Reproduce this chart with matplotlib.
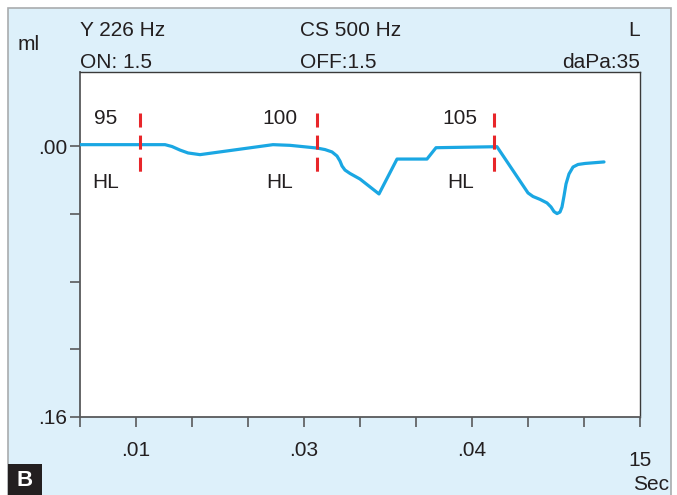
import matplotlib
matplotlib.use("Agg")
import matplotlib.pyplot as plt
from matplotlib.patches import Rectangle

plt.rcParams['font.family'] = ['Liberation Sans', 'DejaVu Sans']
plt.rcParams['lines.scale_dashes'] = False

# reflex trace (x in tick units, y in ml, positive = downward deflection)
trace_x = [0.0, 1.518, 1.643, 1.786, 1.929, 2.143, 3.446, 3.75, 4.232, 4.375, 4.5,
           4.589, 4.643, 4.679, 4.732, 4.821, 5.0, 5.339, 5.661, 6.196, 6.357,
           7.446, 8.0, 8.089, 8.214, 8.339, 8.411, 8.464, 8.518, 8.571, 8.607,
           8.643, 8.679, 8.732, 8.804, 8.893, 9.018, 9.357]
trace_y = [-0.0008, -0.0008, 0.0003, 0.0024, 0.0041, 0.0051, -0.0008, -0.0004,
           0.0012, 0.0021, 0.0035, 0.0059, 0.0089, 0.0118, 0.0142, 0.0162, 0.0195,
           0.0283, 0.0077, 0.0077, 0.0010, 0.0004, 0.0277, 0.0298, 0.0315, 0.0336,
           0.0360, 0.0387, 0.0399, 0.0390, 0.0360, 0.0295, 0.0224, 0.0165, 0.0124,
           0.0109, 0.0103, 0.0094]

# stimulus levels and onset markers
levels = ['95', '100', '105']
onsets = [1.07, 4.23, 7.39]
level_x = [0.46, 3.57, 6.79]

x_ticks = list(range(11))
x_labels = ['', '.01', '', '', '.03', '', '', '.04', '', '', '']
y_ticks = [0.0, 0.04, 0.08, 0.12, 0.16]
y_labels = ['.00', '', '', '', '.16']

W, H = 677, 495
FS = 15
fig = plt.figure(figsize=(W / 100, H / 100), dpi=100)
fig.patch.set_facecolor('white')

# light blue panel behind everything
panel = Rectangle((8 / W, -0.05), (671 - 8) / W, (495 - 8) / H + 0.05,
                  transform=fig.transFigure, facecolor='#ddf0fa',
                  edgecolor='#a9acae', linewidth=1.2, zorder=-5)
fig.patches.append(panel)

ax = fig.add_axes([80 / W, (H - 417) / H, 560 / W, (417 - 72) / H])
ax.set_zorder(2)
ax.set_facecolor('white')
ax.set_xlim(0, 10)
ax.set_ylim(0.16, -0.0437)

ax.plot(trace_x, trace_y, color='#1aa7e3', linewidth=2.3, solid_capstyle='round',
        solid_joinstyle='round', zorder=3)

for lvl, on, lx in zip(levels, onsets, level_x):
    ax.plot([on, on], [-0.0195, 0.0153], color='#e8262a', linewidth=2.2,
            dashes=(10.1, 5.8), zorder=4)
    ax.text(lx, -0.0165, lvl, ha='center', va='center', fontsize=FS, color='#231f20')
    ax.text(lx, 0.0218, 'HL', ha='center', va='center', fontsize=FS, color='#231f20')

ax.set_xticks(x_ticks)
ax.set_xticklabels(x_labels)
ax.set_yticks(y_ticks)
ax.set_yticklabels(y_labels)
ax.tick_params(direction='out', length=7, width=1.2, color='#58595b',
               labelsize=FS, labelcolor='#231f20')
ax.tick_params(axis='x', pad=10)
ax.tick_params(axis='y', pad=2)

for side in ['left', 'bottom']:
    ax.spines[side].set_color('#58595b')
    ax.spines[side].set_linewidth(1.3)
for side in ['top', 'right']:
    ax.spines[side].set_color('#3a3a3a')
    ax.spines[side].set_linewidth(1.0)

def px(x, y):
    return x / W, 1 - y / H

txt = dict(fontsize=FS, color='#231f20', va='center')
fig.text(*px(80, 30), 'Y 226 Hz', ha='left', **txt)
fig.text(*px(80, 62), 'ON: 1.5', ha='left', **txt)
fig.text(*px(300, 30), 'CS 500 Hz', ha='left', **txt)
fig.text(*px(300, 62), 'OFF:1.5', ha='left', **txt)
fig.text(*px(640, 30), 'L', ha='right', **txt)
fig.text(*px(640, 62), 'daPa:35', ha='right', **txt)
fig.text(*px(18, 45), 'ml', ha='left', **txt)
fig.text(*px(640, 460), '15', ha='center', **txt)
fig.text(*px(669, 485), 'Sec', ha='right', **txt)

# panel letter
fig.patches.append(Rectangle((8 / W, 0), 34 / W, 31 / H, transform=fig.transFigure,
                             facecolor='#231f20', edgecolor='none', zorder=5))
fig.text(*px(25, 480), 'B', ha='center', va='center', fontsize=16,
         fontweight='bold', color='white', zorder=6)

fig.savefig('out.png', dpi=100)
